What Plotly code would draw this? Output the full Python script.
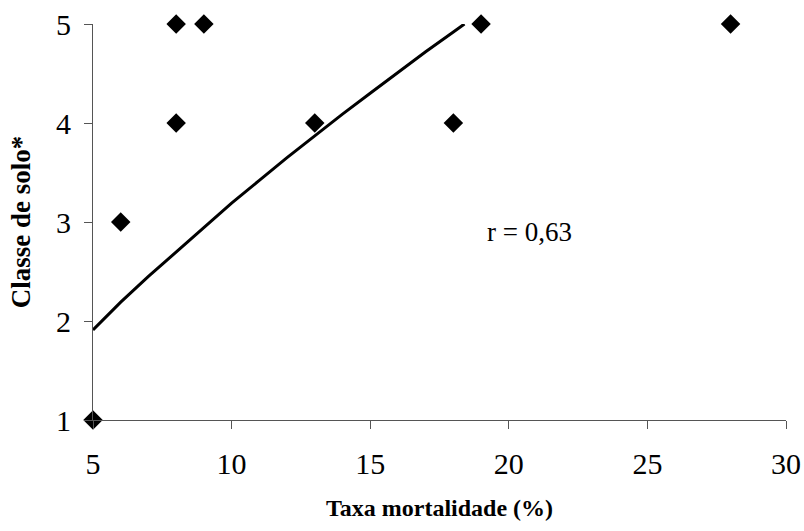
import plotly.graph_objects as go

# Observed data points
mortalidade = [5, 6, 8, 8, 9, 13, 18, 19, 28]
classe_solo = [1, 3, 4, 5, 5, 4, 4, 5, 5]

# Trend line
trend_x = [5, 6, 7, 8, 9, 10, 11, 12, 13, 14, 15, 16, 17, 18, 18.4]
trend_y = [1.91, 2.19, 2.45, 2.70, 2.95, 3.19, 3.42, 3.65, 3.87, 4.09, 4.30, 4.51, 4.72, 4.92, 5.00]

x_ticks = [5, 10, 15, 20, 25, 30]
y_ticks = [1, 2, 3, 4, 5]

r_label = "r = 0,63"
x_title = "Taxa mortalidade (%)"
y_title = "Classe de solo*"

FONT = "Liberation Serif, Times New Roman, serif"

fig = go.Figure()
fig.add_trace(go.Scatter(
    x=mortalidade, y=classe_solo, mode="markers",
    marker=dict(symbol="diamond", size=15, color="black", line=dict(width=0)),
    cliponaxis=False, showlegend=False, hoverinfo="skip"))
fig.add_trace(go.Scatter(
    x=trend_x, y=trend_y, mode="lines",
    line=dict(color="black", width=3),
    showlegend=False, hoverinfo="skip"))

fig.add_annotation(x=19.14, y=2.9, text=r_label, showarrow=False,
                   xanchor="left", yanchor="middle",
                   font=dict(family=FONT, size=27, color="black"))

fig.update_xaxes(range=[5, 30], tickvals=x_ticks, ticks="outside", ticklen=8,
                 tickcolor="#555", showline=True, linecolor="#555", linewidth=1,
                 showgrid=False, zeroline=False, ticklabelstandoff=9,
                 automargin=False,
                 tickfont=dict(family=FONT, size=30, color="black"),
                 title=dict(text="<b>" + x_title + "</b>", standoff=20,
                            font=dict(family=FONT, size=24, color="black")))
fig.update_yaxes(range=[1, 5], tickvals=y_ticks, ticks="outside", ticklen=8,
                 tickcolor="#555", showline=True, linecolor="#555", linewidth=1,
                 showgrid=False, zeroline=False, ticklabelstandoff=7,
                 automargin=False,
                 tickfont=dict(family=FONT, size=30, color="black"),
                 title=dict(text="<b>" + y_title + "</b>", standoff=17,
                            font=dict(family=FONT, size=27, color="black")))

fig.update_layout(width=804, height=531, plot_bgcolor="white", paper_bgcolor="white",
                  margin=dict(l=93, r=18, t=24, b=111))
fig.write_html("out.html", config={"displayModeBar": False},
               post_script="document.body.style.margin='0';")
